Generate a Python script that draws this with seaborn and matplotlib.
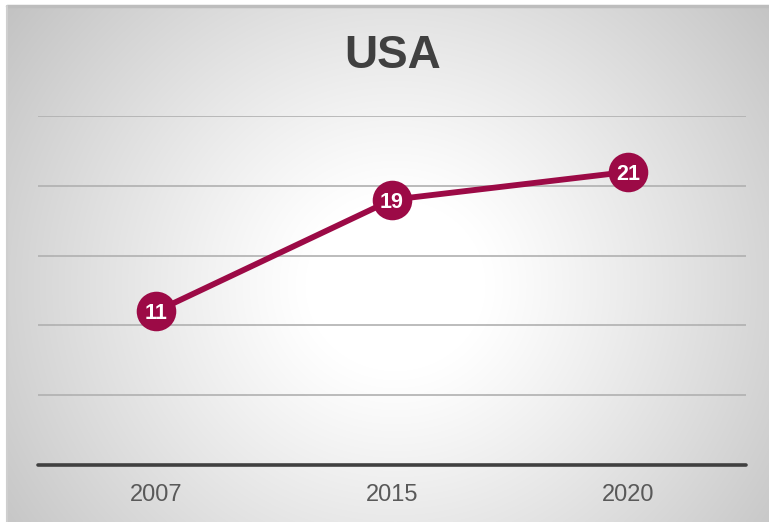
import numpy as np
import pandas as pd
import matplotlib
matplotlib.use("Agg")
import matplotlib.pyplot as plt
import seaborn as sns

years = ["2007", "2015", "2020"]
values = [11, 19, 21]
title = "USA"

sns.set_theme(style="white")
plt.rcParams['font.family'] = ['Liberation Sans', 'DejaVu Sans']

W, H = 769, 522
fig = plt.figure(figsize=(W / 100, H / 100), dpi=100)
fig.patch.set_facecolor("white")

# background panel with radial gradient
bx0, by0 = 7, 6  # left white strip, top white strip (px)
bg = fig.add_axes([bx0 / W, 0, (W - bx0) / W, (H - by0) / H])
bg.set_axis_off()
nx, ny = W - bx0, H - by0
xx, yy = np.meshgrid(np.arange(nx) + bx0, np.arange(ny) + by0)
cx, cy = 395, 285
r = np.sqrt((xx - cx) ** 2 + ((yy - cy) * 1.05) ** 2)
t = np.clip((r - 90) / 400, 0, 1)
v = 1 - 0.24 * t ** 1.1
img = np.dstack([v, v, v])
bg.imshow(img, aspect="auto", extent=[0, 1, 0, 1], origin="upper")
bg.set_xlim(0, 1)
bg.set_ylim(0, 1)
bg.plot([0, 1], [1, 1], color="#bdbdbd", lw=2.5, transform=bg.transAxes, clip_on=False)
bg.plot([0, 0], [0, 1], color="#cfcfcf", lw=1.5, transform=bg.transAxes, clip_on=False)

# main axes
left, right = 38, 746
top, base = 116, 465
ax = fig.add_axes([left / W, (H - base) / H, (right - left) / W, (base - top) / H])
ax.patch.set_alpha(0)

df = pd.DataFrame({"year": years, "value": values})
sns.lineplot(data=df, x="year", y="value", ax=ax, color="#9C0A46", lw=4.2,
             marker="o", markersize=28.5, markeredgewidth=0, sort=False, zorder=3)

ax.set_ylim(0, 25)
ax.set_xlim(-0.5, len(years) - 0.5)
for g in [5, 10, 15, 20, 25]:
    ax.axhline(g, color="#b0b0b0", lw=1.2, zorder=1)
ax.axhline(0, color="#404040", lw=2.6, zorder=2, clip_on=False)

for i, val in enumerate(df["value"]):
    ax.text(i, val, str(val), ha="center", va="center_baseline", color="white",
            fontsize=15.5, fontweight="bold", zorder=4)

ax.set_yticks([])
ax.set_xticks(range(len(years)))
ax.set_xticklabels(years, fontsize=17, color="#595959")
ax.tick_params(axis="x", length=0, pad=14)
ax.set_xlabel("")
ax.set_ylabel("")
for s in ax.spines.values():
    s.set_visible(False)

fig.text(393 / W, 1 - 56 / H, title, ha="center", va="center",
         fontsize=33, fontweight="bold", color="#404040")

fig.savefig("out.png", dpi=100)
